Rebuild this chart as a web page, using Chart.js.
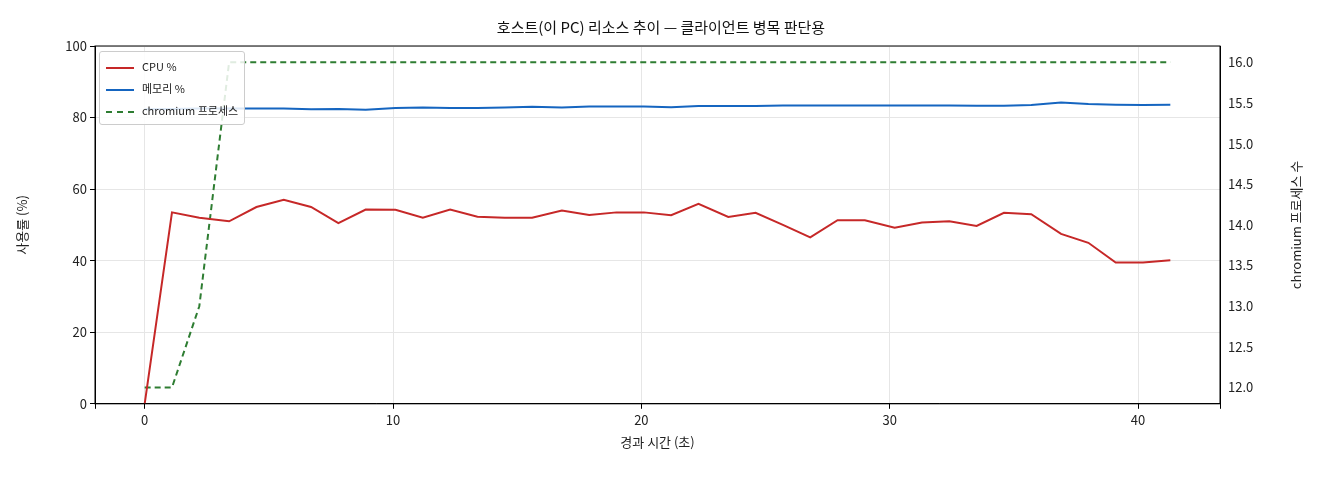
<!DOCTYPE html>
<html><head><meta charset="utf-8">
<script src="https://cdn.jsdelivr.net/npm/chart.js@4"></script>
<style>
body{margin:0;background:#fff;font-family:"Noto Sans CJK KR","DejaVu Sans",sans-serif}
#wrap{position:relative;width:1320px;height:480px}
#leg{position:absolute;left:99px;top:51px;border:1px solid #ccc;border-radius:3px;background:rgba(255,255,255,0.85);padding:3px 6px;font-size:11px;line-height:22px;color:#222}
#leg span.l{display:inline-block;width:28px;height:0;vertical-align:middle;margin-right:8px}
</style></head><body>
<div id="wrap"><canvas id="c" width="1320" height="480"></canvas>
<div id="leg">
<div><span class="l" style="border-top:2px solid #c62828"></span>CPU %</div>
<div><span class="l" style="border-top:2px solid #1565c0"></span>메모리 %</div>
<div><span class="l" style="border-top:2px dashed #2e7d32"></span>chromium 프로세스</div>
</div></div>
<script>
const timeSec=[0,1.1,2.2,3.4,4.5,5.6,6.7,7.8,8.9,10.1,11.2,12.3,13.4,14.5,15.6,16.8,17.9,19.0,20.1,21.2,22.3,23.5,24.6,25.7,26.8,27.9,29.0,30.2,31.3,32.4,33.5,34.6,35.7,36.9,38.0,39.1,40.2,41.3];
const cpuPct=[0,53.5,52,51,55,57,55,50.5,54.3,54.2,52,54.3,52.3,52,52,54,52.8,53.5,53.5,52.7,55.9,52.2,53.4,50,46.5,51.3,51.3,49.2,50.7,51,49.7,53.4,53,47.5,45,39.5,39.5,40.1];
const memPct=[82.3,82.4,82.5,82.5,82.5,82.5,82.3,82.4,82.2,82.7,82.8,82.7,82.7,82.8,83,82.8,83.1,83.1,83.1,82.9,83.2,83.2,83.2,83.4,83.4,83.4,83.4,83.4,83.4,83.4,83.3,83.3,83.5,84.2,83.8,83.6,83.5,83.6];
const chromiumCount=[12,12,13,16,16,16,16,16,16,16,16,16,16,16,16,16,16,16,16,16,16,16,16,16,16,16,16,16,16,16,16,16,16,16,16,16,16,16];
const pts=a=>a.map((v,i)=>({x:timeSec[i],y:v}));
const F="'Noto Sans CJK KR','DejaVu Sans',sans-serif";
Chart.defaults.font.family=F;Chart.defaults.color='#222';
const frame={id:'frame',afterDraw(c){const a=c.chartArea,x=c.ctx;x.save();x.strokeStyle='#000';x.lineWidth=1;x.strokeRect(a.left,a.top,a.right-a.left,a.bottom-a.top);
x.translate(1296,(a.top+a.bottom)/2);x.rotate(-Math.PI/2);x.font="13px "+F;x.fillStyle='#222';x.textAlign='center';x.textBaseline='middle';x.fillText('chromium 프로세스 수',0,0);x.restore();}};
new Chart(document.getElementById('c'),{type:'line',
data:{datasets:[
{label:'CPU %',data:pts(cpuPct),borderColor:'#c62828',borderWidth:2,pointRadius:0,yAxisID:'y'},
{label:'메모리 %',data:pts(memPct),borderColor:'#1565c0',borderWidth:2,pointRadius:0,yAxisID:'y'},
{label:'chromium 프로세스',data:pts(chromiumCount),borderColor:'#2e7d32',borderWidth:2,borderDash:[6,4],pointRadius:0,yAxisID:'y1'}]},
options:{responsive:false,animation:false,
layout:{padding:{top:12,left:10,right:8,bottom:26}},
plugins:{legend:{display:false},title:{display:true,text:'호스트(이 PC) 리소스 추이 — 클라이언트 병목 판단용',font:{size:15,weight:'normal'},color:'#111',padding:{top:6,bottom:10}}},
scales:{
x:{type:'linear',min:-2,max:43.3,ticks:{stepSize:10,font:{size:13},callback:v=>v%10===0?v:''},grid:{color:'#e6e6e6',tickColor:'#000',tickLength:5},border:{color:'#000'},title:{display:true,text:'경과 시간 (초)',font:{size:13}}},
y:{min:0,max:100,ticks:{stepSize:20,font:{size:13}},grid:{color:'#e6e6e6',tickColor:'#000',tickLength:5},border:{color:'#000'},title:{display:true,text:'사용률 (%)',font:{size:13}},afterFit:s=>{s.width=85}},
y1:{position:'right',min:11.8,max:16.2,ticks:{stepSize:0.5,font:{size:13},callback:v=>v.toFixed(1)},afterBuildTicks:s=>{s.ticks=[12,12.5,13,13.5,14,14.5,15,15.5,16].map(v=>({value:v}))},grid:{display:false,tickColor:'#000',tickLength:5},border:{color:'#000'},title:{display:false},afterFit:s=>{s.width=92}}
}}, plugins:[frame]});
</script></body></html>
